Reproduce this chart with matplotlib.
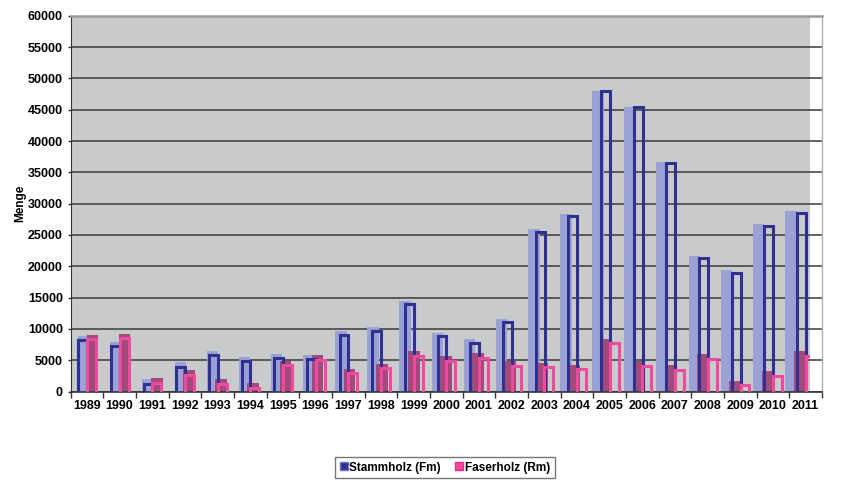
import matplotlib
matplotlib.use('Agg')
import matplotlib.pyplot as plt
from matplotlib.patches import Rectangle
from matplotlib.lines import Line2D
from matplotlib.transforms import Affine2D
import numpy as np

# Holzmengen je Jahr
years = [str(y) for y in range(1989, 2012)]
stammholz = [8200, 7300, 1200, 3950, 5850, 4900, 5300, 5150, 9050, 9750, 13950, 8800,
             7700, 11050, 25550, 28100, 48000, 45400, 36450, 21300, 19000, 26450, 28450]
faserholz = [8450, 8500, 1400, 2700, 1200, 600, 4200, 5100, 2900, 3750, 5750, 4950,
             5400, 4150, 3900, 3600, 7700, 4100, 3500, 5250, 1000, 2550, 5750]

plt.rcParams['font.family'] = 'Liberation Sans'
plt.rcParams['font.weight'] = 'bold'

fig = plt.figure(figsize=(8.47, 4.97), dpi=100)
ax = fig.add_axes([70.5 / 847, 1 - 391.6 / 497, (822 - 70.5) / 847, (391.6 - 15.7) / 497])
ax.set_facecolor('white')

x = np.arange(len(years))
ax.set_xlim(-0.5, len(years) - 0.5)

# grey back wall (stops a little before the right edge)
wall = Rectangle((0, 0), 0.984, 1, transform=ax.transAxes,
                 facecolor='#c9cacc', edgecolor='none', zorder=0)
ax.add_patch(wall)

# back faces of the columns, pulled toward a vanishing point (pseudo 3D)
k = 0.0166
vx, vy = 158, 397
back_trans = ax.transData + Affine2D().translate(-vx, -vy).scale(1 - k).translate(vx, vy)

w = 0.27
base = -1500
s_vals = np.array(stammholz)
f_vals = np.array(faserholz)
pos_s = x - 0.128
pos_f = x + 0.141

back_s = ax.bar(pos_s, s_vals - base, w + 0.09, bottom=base, color='#9aa1d5',
                transform=back_trans, zorder=2)
back_f = ax.bar(pos_f, f_vals - base, w + 0.09, bottom=base, color='#a34a7c',
                transform=back_trans, zorder=2.1)
front_s = ax.bar(pos_s, s_vals - base, w, bottom=base, facecolor='none',
                 edgecolor='#2e3192', linewidth=2.2, zorder=3)
front_f = ax.bar(pos_f, f_vals - base, w, bottom=base, facecolor='none',
                 edgecolor='#ee4a9e', linewidth=2.2, zorder=3.1)
ax.set_ylim(0, 60000)

for bars in (back_s, back_f, front_s, front_f):
    for b in bars:
        b.set_clip_path(wall)

# axes styling
ax.set_yticks(range(0, 60001, 5000))
ax.yaxis.grid(True, color='#3a3a3a', linewidth=1.1)
ax.set_axisbelow(True)

ax.set_xticks(x)
ax.set_xticklabels(years)
ax.set_xticks(np.arange(-0.5, len(years)), minor=True)
ax.tick_params(axis='x', which='major', length=0, pad=6, labelsize=9)
ax.tick_params(axis='x', which='minor', length=4, width=1, color='#333333')
ax.tick_params(axis='y', length=2.5, width=1, pad=3, labelsize=9, color='#333333')

ax.spines['top'].set_color('#9a9a9a')
ax.spines['top'].set_linewidth(1.8)
ax.spines['right'].set_color('#b0b0b0')
ax.spines['right'].set_linewidth(1.0)
ax.spines['left'].set_color('#333333')
ax.spines['bottom'].set_color('#333333')
ax.spines['bottom'].set_linewidth(1.2)

fig.text(20 / 847, 1 - 203 / 497, 'Menge', rotation=90, va='center', ha='center',
         fontsize=8.5, fontweight='bold')

handles = [
    Line2D([], [], linestyle='none', marker='s', markersize=6,
           markerfacecolor='#2e3192', markeredgecolor='#6b6fc0', label='Stammholz (Fm)'),
    Line2D([], [], linestyle='none', marker='s', markersize=6,
           markerfacecolor='#ee4a9e', markeredgecolor='#e0308a', label='Faserholz (Rm)'),
]
leg = fig.legend(handles=handles, loc='center', bbox_to_anchor=(445 / 847, 1 - 467.5 / 497),
                 ncol=2, fontsize=8.5, frameon=True, fancybox=False, edgecolor='#555555',
                 handlelength=0.6, handletextpad=0.2, columnspacing=1.2,
                 borderpad=0.4, borderaxespad=0)
leg.get_frame().set_linewidth(1.0)

fig.savefig('out.png', dpi=100)
